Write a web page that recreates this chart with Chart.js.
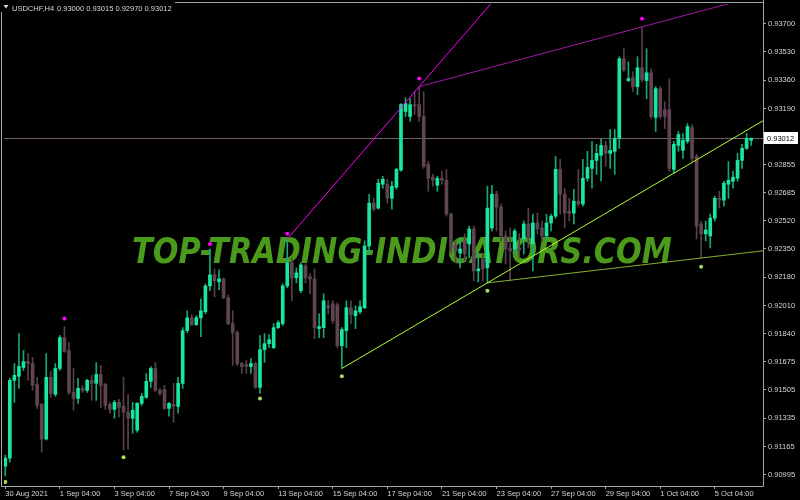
<!DOCTYPE html>
<html><head><meta charset="utf-8">
<script src="https://cdn.jsdelivr.net/npm/chart.js@4.4.1/dist/chart.umd.min.js"></script>
<style>html,body{margin:0;padding:0;background:#000;overflow:hidden}canvas{display:block}</style>
</head><body>
<canvas id="c" width="800" height="500"></canvas>
<script>
const symbol = "USDCHF,H4";
const watermark = "TOP-TRADING-INDICATORS.COM";

const openP = [
0.91048,0.91096,0.91562,0.91586,0.91639,0.91675,0.91663,0.91538,0.91418,0.91210,
0.91580,0.91478,0.91633,0.91818,0.91741,0.91490,0.91454,0.91514,0.91502,0.91562,
0.91544,0.91597,0.91538,0.91418,0.91388,0.91430,0.91406,0.91371,0.91335,0.91263,
0.91424,0.91460,0.91556,0.91633,0.91502,0.91508,0.91394,0.91418,0.91406,0.91544,
0.91860,0.91937,0.91896,0.91937,0.91973,0.92128,0.92194,0.92152,0.92170,0.92057,
0.91902,0.91848,0.91663,0.91657,0.91645,0.91663,0.91520,0.91746,0.91782,0.91758,
0.91878,0.91902,0.92128,0.92266,0.92176,0.92099,0.92248,0.92182,0.92170,0.91872,
0.91878,0.92009,0.92021,0.92015,0.91770,0.91860,0.91997,0.91949,0.91973,0.91997,
0.92367,0.92624,0.92594,0.92737,0.92737,0.92653,0.92719,0.92821,0.93173,0.93143,
0.93214,0.93214,0.93143,0.92856,0.92779,0.92731,0.92773,0.92761,0.92558,0.92367,
0.92325,0.92398,0.92379,0.92469,0.92218,0.92290,0.92236,0.92475,0.92677,0.92600,
0.92427,0.92355,0.92349,0.92355,0.92410,0.92499,0.92379,0.92505,0.92475,0.92427,
0.92505,0.92546,0.92826,0.92677,0.92576,0.92564,0.92636,0.92618,0.92773,0.92832,
0.92880,0.92910,0.92970,0.92922,0.92934,0.93012,0.93489,0.93358,0.93376,0.93322,
0.93435,0.93358,0.93405,0.93137,0.93310,0.93185,0.93185,0.92826,0.92970,0.92940,
0.92994,0.93077,0.92904,0.92499,0.92440,0.92427,0.92534,0.92653,0.92642,0.92737,
0.92755,0.92773,0.92880,0.92952,0.93000];

const highP = [
0.91114,0.91574,0.91663,0.91842,0.91741,0.91723,0.91699,0.91580,0.91424,0.91723,
0.91615,0.91663,0.91830,0.91884,0.91788,0.91633,0.91574,0.91532,0.91568,0.91592,
0.91669,0.91651,0.91544,0.91430,0.91442,0.91448,0.91580,0.91478,0.91430,0.91430,
0.91484,0.91603,0.91645,0.91669,0.91514,0.91532,0.91430,0.91544,0.91580,0.91878,
0.91979,0.91955,0.91949,0.92051,0.92140,0.92349,0.92230,0.92224,0.92176,0.92075,
0.91979,0.91860,0.91669,0.91681,0.91693,0.91669,0.91830,0.91842,0.91836,0.91902,
0.91920,0.92140,0.92409,0.92295,0.92236,0.92266,0.92260,0.92200,0.92230,0.91961,
0.92081,0.92039,0.92039,0.92027,0.91878,0.92039,0.92039,0.92009,0.92039,0.92398,
0.92677,0.92653,0.92767,0.92785,0.92767,0.92755,0.92832,0.93220,0.93256,0.93250,
0.93292,0.93322,0.93292,0.92874,0.92797,0.92785,0.92815,0.92826,0.92564,0.92398,
0.92416,0.92440,0.92486,0.92486,0.92319,0.92325,0.92725,0.92731,0.92695,0.92618,
0.92457,0.92475,0.92469,0.92440,0.92517,0.92594,0.92558,0.92564,0.92517,0.92558,
0.92558,0.92904,0.92886,0.92713,0.92653,0.92707,0.92826,0.92886,0.92934,0.92994,
0.92976,0.93006,0.92994,0.93065,0.93065,0.93501,0.93549,0.93471,0.93411,0.93501,
0.93680,0.93549,0.93429,0.93322,0.93322,0.93232,0.93370,0.92994,0.93053,0.93041,
0.93101,0.93095,0.92916,0.92517,0.92517,0.92558,0.92665,0.92695,0.92755,0.92874,
0.92815,0.92922,0.92976,0.93041,0.93015];

const lowP = [
0.90989,0.91072,0.91430,0.91514,0.91621,0.91562,0.91502,0.91394,0.91132,0.91204,
0.91460,0.91466,0.91621,0.91729,0.91478,0.91383,0.91424,0.91490,0.91490,0.91442,
0.91442,0.91400,0.91388,0.91365,0.91335,0.91341,0.91144,0.91150,0.91245,0.91251,
0.91412,0.91454,0.91520,0.91496,0.91472,0.91388,0.91347,0.91311,0.91365,0.91514,
0.91848,0.91890,0.91890,0.91824,0.91961,0.92099,0.92063,0.92105,0.92051,0.91896,
0.91651,0.91651,0.91603,0.91603,0.91603,0.91514,0.91484,0.91669,0.91758,0.91752,
0.91872,0.91890,0.92116,0.92039,0.92146,0.92087,0.92146,0.92081,0.91812,0.91818,
0.91818,0.91961,0.91902,0.91758,0.91633,0.91758,0.91902,0.91872,0.91961,0.91991,
0.92325,0.92576,0.92588,0.92713,0.92624,0.92588,0.92707,0.92815,0.93143,0.93113,
0.93155,0.93113,0.92832,0.92695,0.92725,0.92695,0.92737,0.92546,0.92325,0.92266,
0.92236,0.92278,0.92295,0.92158,0.92152,0.92158,0.92146,0.92457,0.92457,0.92398,
0.92260,0.92158,0.92319,0.92295,0.92319,0.92355,0.92218,0.92440,0.92398,0.92398,
0.92457,0.92534,0.92558,0.92475,0.92517,0.92499,0.92606,0.92606,0.92755,0.92713,
0.92797,0.92755,0.92844,0.92832,0.92797,0.92952,0.93411,0.93352,0.93292,0.93274,
0.93352,0.93250,0.93131,0.93053,0.93131,0.93071,0.92815,0.92803,0.92934,0.92892,
0.92982,0.92874,0.92410,0.92295,0.92398,0.92355,0.92517,0.92594,0.92606,0.92653,
0.92713,0.92755,0.92832,0.92946,0.92970];

const closeP = [
0.91096,0.91562,0.91592,0.91645,0.91675,0.91663,0.91532,0.91412,0.91210,0.91580,
0.91484,0.91633,0.91818,0.91735,0.91490,0.91454,0.91514,0.91502,0.91562,0.91544,
0.91597,0.91532,0.91412,0.91388,0.91430,0.91400,0.91371,0.91335,0.91383,0.91424,
0.91466,0.91556,0.91633,0.91502,0.91484,0.91394,0.91424,0.91406,0.91544,0.91860,
0.91937,0.91896,0.91937,0.91979,0.92128,0.92194,0.92158,0.92170,0.92057,0.91902,
0.91848,0.91663,0.91645,0.91645,0.91663,0.91520,0.91746,0.91782,0.91806,0.91878,
0.91908,0.92128,0.92266,0.92176,0.92206,0.92254,0.92176,0.92170,0.91878,0.91884,
0.92039,0.91997,0.91920,0.91770,0.91866,0.91997,0.91955,0.91979,0.92003,0.92367,
0.92624,0.92588,0.92743,0.92767,0.92653,0.92725,0.92826,0.93214,0.93220,0.93214,
0.93206,0.93143,0.92844,0.92773,0.92761,0.92773,0.92761,0.92558,0.92355,0.92337,
0.92349,0.92319,0.92469,0.92218,0.92230,0.92230,0.92594,0.92677,0.92600,0.92427,
0.92349,0.92337,0.92457,0.92343,0.92499,0.92416,0.92505,0.92469,0.92427,0.92505,
0.92546,0.92826,0.92677,0.92564,0.92564,0.92636,0.92618,0.92773,0.92838,0.92880,
0.92922,0.92970,0.92922,0.92940,0.93012,0.93489,0.93423,0.93370,0.93322,0.93435,
0.93364,0.93405,0.93143,0.93310,0.93143,0.93143,0.92832,0.92976,0.93035,0.93000,
0.93083,0.92892,0.92486,0.92440,0.92463,0.92534,0.92653,0.92642,0.92743,0.92761,
0.92779,0.92880,0.92952,0.93012,0.93012];

const xTickIdx = [0,12,24,36,48,60,72,84,96,108,120,132,144,156];
const xTickLabels = ["30 Aug 2021","1 Sep 04:00","3 Sep 04:00","7 Sep 04:00","9 Sep 04:00","13 Sep 04:00","15 Sep 04:00","17 Sep 04:00","21 Sep 04:00","23 Sep 04:00","27 Sep 04:00","29 Sep 04:00","1 Oct 04:00","5 Oct 04:00"];
const yTickVals = [0.93700,0.93530,0.93360,0.93190,0.92855,0.92685,0.92520,0.92350,0.92180,0.92010,0.91840,0.91675,0.91505,0.91335,0.91165,0.90995];

const fracUpIdx = [13, 45, 62, 91, 140];
const fracUpPrice = [0.91932, 0.92379, 0.92440, 0.93370, 0.93728];
const fracDnIdx = [0, 26, 56, 74, 106, 153];
const fracDnPrice = [0.90953, 0.91102, 0.91454, 0.91586, 0.92099, 0.92242];

const trendHighPairs = [[62, 91], [91, 140]];
const trendLowPairs = [[74, 106], [106, 153]];

const FONT = "'Liberation Sans', Arial, sans-serif";
const BULL = '#19e6a0', BEAR = '#5f4453', BULLW = '#17a877', BEARW = '#56404c';
const X_MIN = -0.285, X_MAX = 166.6, Y_MIN = 0.90929, Y_MAX = 0.93817;

const idx = openP.map((_, i) => i);
const bull = idx.map(i => closeP[i] >= openP[i]);
const last = closeP.length - 1;

function ray(i0, p0, i1, p1) {
  const slope = (p1 - p0) / (i1 - i0);
  const xe = X_MAX + 5;
  return [{x: i0, y: p0}, {x: xe, y: p0 + slope * (xe - i0)}];
}

const bgPlugin = {
  id: 'bg',
  beforeDraw(chart) {
    const c = chart.ctx; c.save(); c.fillStyle = '#000'; c.fillRect(0, 0, chart.width, chart.height); c.restore();
  },
  beforeDatasetsDraw(chart) {
    const c = chart.ctx, a = chart.chartArea, ys = chart.scales.y;
    c.save();
    c.beginPath(); c.rect(a.left, a.top, a.right - a.left, a.bottom - a.top); c.clip();
    c.font = "italic bold 36px 'DejaVu Sans', sans-serif";
    const w = c.measureText(watermark).width;
    c.translate(132, 263);
    c.scale(540 / w, 1);
    c.fillStyle = '#4a9a1c';
    c.textBaseline = 'alphabetic';
    c.fillText(watermark, 0, 0);
    c.restore();
    const yp = Math.round(ys.getPixelForValue(closeP[last])) + 0.5;
    c.save();
    c.strokeStyle = '#76606a'; c.lineWidth = 1;
    c.beginPath(); c.moveTo(a.left, yp); c.lineTo(a.right, yp); c.stroke();
    c.restore();
  },
  afterDraw(chart) {
    const c = chart.ctx, a = chart.chartArea, ys = chart.scales.y;
    c.save();
    c.strokeStyle = '#a4a4a4'; c.lineWidth = 1;
    c.beginPath();
    c.moveTo(1.5, 12); c.lineTo(1.5, a.bottom + 0.5);
    c.lineTo(a.right + 0.5, a.bottom + 0.5);
    c.moveTo(a.right + 0.5, 0); c.lineTo(a.right + 0.5, a.bottom + 0.5);
    c.moveTo(175, 2.5); c.lineTo(a.right + 0.5, 2.5);
    c.stroke();
    const yp = Math.round(ys.getPixelForValue(closeP[last]));
    c.fillStyle = '#ffffff';
    c.fillRect(764, yp - 6, 34, 12);
    c.fillStyle = '#000000';
    c.font = "7.5px " + FONT;
    c.textBaseline = 'middle';
    c.fillText(closeP[last].toFixed(5), 767, yp + 0.5);
    c.fillStyle = '#d8d8d8';
    c.beginPath(); c.moveTo(3.5, 5); c.lineTo(8.5, 5); c.lineTo(6, 8.5); c.closePath(); c.fill();
    c.textBaseline = 'alphabetic';
    c.fillText(symbol, 12, 10.5);
    const vals = [openP[last], highP[last], lowP[last], closeP[last]].map(v => v.toFixed(5)).join(' ');
    c.fillText(vals, 57, 10.5);
    c.restore();
  }
};

const datasets = [
  { type: 'scatter', label: 'fractal up', data: fracUpIdx.map((k, j) => ({x: k, y: fracUpPrice[j]})),
    pointRadius: 2, pointBackgroundColor: '#ff00ff', pointBorderWidth: 0, order: 0 },
  { type: 'scatter', label: 'fractal down', data: fracDnIdx.map((k, j) => ({x: k, y: fracDnPrice[j]})),
    pointRadius: 2, pointBackgroundColor: '#a6dc5a', pointBorderWidth: 0, order: 0 },
  { type: 'line', label: 'res 1', data: ray(trendHighPairs[0][0], highP[trendHighPairs[0][0]], trendHighPairs[0][1], highP[trendHighPairs[0][1]]),
    borderColor: '#ff00ff', borderWidth: 1, pointRadius: 0, order: 1 },
  { type: 'line', label: 'res 2', data: ray(trendHighPairs[1][0], highP[trendHighPairs[1][0]], trendHighPairs[1][1], highP[trendHighPairs[1][1]]),
    borderColor: '#a617a6', borderWidth: 1, pointRadius: 0, order: 1 },
  { type: 'line', label: 'sup 1', data: ray(trendLowPairs[0][0], lowP[trendLowPairs[0][0]], trendLowPairs[0][1], lowP[trendLowPairs[0][1]]),
    borderColor: '#adff2f', borderWidth: 1, pointRadius: 0, order: 1 },
  { type: 'line', label: 'sup 2', data: ray(trendLowPairs[1][0], lowP[trendLowPairs[1][0]], trendLowPairs[1][1], lowP[trendLowPairs[1][1]]),
    borderColor: '#86b02c', borderWidth: 1, pointRadius: 0, order: 1 },
  { type: 'bar', label: 'body', data: idx.map(i => ({x: i, y: [openP[i], closeP[i]]})),
    backgroundColor: idx.map(i => bull[i] ? BULL : BEAR), barThickness: 3, minBarLength: 1,
    grouped: false, borderWidth: 0, order: 2 },
  { type: 'bar', label: 'wick', data: idx.map(i => ({x: i, y: [lowP[i], highP[i]]})),
    backgroundColor: idx.map(i => bull[i] ? BULLW : BEARW), barThickness: 1,
    grouped: false, borderWidth: 0, order: 3 }
];

new Chart(document.getElementById('c'), {
  type: 'bar',
  data: { datasets },
  plugins: [bgPlugin],
  options: {
    responsive: false, devicePixelRatio: 1, animation: false,
    layout: { padding: { left: 1, top: 2, right: 0, bottom: 0 } },
    plugins: { legend: { display: false }, tooltip: { enabled: false } },
    scales: {
      x: {
        type: 'linear', min: X_MIN, max: X_MAX, offset: false,
        afterBuildTicks: s => { s.ticks = xTickIdx.map(v => ({value: v})); },
        afterFit: s => { s.height = 14; s.paddingLeft = 0; s.paddingRight = 0; },
        ticks: { autoSkip: false, maxRotation: 0, align: 'start', padding: 0, color: '#d4d4d4',
          font: { family: FONT, size: 7.5 }, callback: (v, i) => xTickLabels[i] },
        grid: { drawOnChartArea: false, drawTicks: true, tickLength: 3, color: '#a4a4a4', offset: false },
        border: { display: false }
      },
      y: {
        position: 'right', min: Y_MIN, max: Y_MAX,
        afterBuildTicks: s => { s.ticks = yTickVals.map(v => ({value: v})); },
        afterFit: s => { s.width = 37; s.paddingTop = 0; s.paddingBottom = 0; },
        ticks: { autoSkip: false, padding: 2, color: '#d4d4d4', font: { family: FONT, size: 7.5 },
          callback: v => Number(v).toFixed(5) },
        grid: { drawOnChartArea: false, drawTicks: true, tickLength: 3, color: '#a4a4a4' },
        border: { display: false }
      }
    }
  }
});
</script>
</body></html>
